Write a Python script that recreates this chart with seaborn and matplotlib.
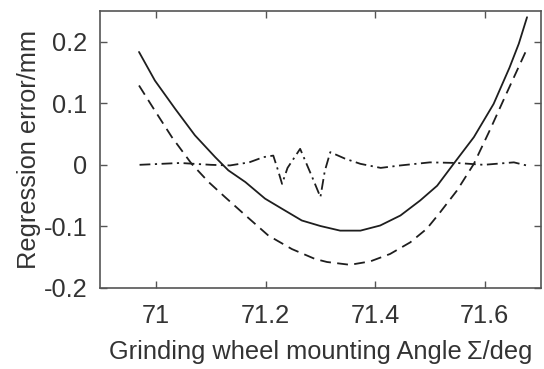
import matplotlib
matplotlib.use("Agg")
import matplotlib.pyplot as plt
import seaborn as sns
import pandas as pd

# Data
solid_x = [70.969, 70.998, 71.035, 71.071, 71.108, 71.132, 71.163, 71.199, 71.230,
           71.266, 71.300, 71.336, 71.373, 71.409, 71.446, 71.482, 71.513, 71.543,
           71.580, 71.616, 71.645, 71.662, 71.677]
solid_y = [0.1835, 0.137, 0.091, 0.048, 0.0125, -0.009, -0.028, -0.055, -0.0715,
           -0.0905, -0.0995, -0.107, -0.107, -0.0987, -0.0824, -0.058, -0.034, 0.0016,
           0.045, 0.099, 0.158, 0.197, 0.240]

dash_x = [70.969, 70.998, 71.029, 71.065, 71.096, 71.126, 71.163, 71.205, 71.248,
          71.290, 71.312, 71.354, 71.391, 71.427, 71.464, 71.494, 71.516, 71.549,
          71.580, 71.610, 71.640, 71.674]
dash_y = [0.129, 0.088, 0.045, 0.0016, -0.028, -0.0525, -0.082, -0.115, -0.137,
          -0.153, -0.158, -0.1626, -0.157, -0.145, -0.126, -0.104, -0.080, -0.042,
          0.0016, 0.058, 0.117, 0.183]

dd_x = [70.970, 71.044, 71.100, 71.135, 71.170, 71.196, 71.214, 71.223, 71.230,
        71.240, 71.263, 71.285, 71.300, 71.308, 71.318, 71.345, 71.373, 71.410,
        71.446, 71.500, 71.549, 71.598, 71.653, 71.676]
dd_y = [0.000, 0.003, 0.000, -0.001, 0.004, 0.0125, 0.015, -0.010, -0.031,
        -0.005, 0.026, -0.020, -0.0525, -0.010, 0.0206, 0.010, 0.0016, -0.005,
        -0.001, 0.004, 0.003, 0.000, 0.004, -0.001]

x_ticks = [71, 71.2, 71.4, 71.6]
x_tick_labels = ["71", "71.2", "71.4", "71.6"]
y_ticks = [-0.2, -0.1, 0, 0.1, 0.2]
y_tick_labels = ["-0.2", "-0.1", "0", "0.1", "0.2"]

sns.set_theme(style="white")
plt.rcParams['font.family'] = ['Liberation Sans', 'DejaVu Sans']

fig = plt.figure(figsize=(5.44, 3.69), dpi=100)
ax = fig.add_axes([0.184, 0.22, 0.81, 0.75])

lc = "#1e1e1e"
lw = 1.3
sns.lineplot(x=solid_x, y=solid_y, ax=ax, color=lc, linewidth=lw, sort=False)
sns.lineplot(x=dash_x, y=dash_y, ax=ax, color=lc, linewidth=lw, sort=False,
             linestyle=(0, (6, 3.5)))
sns.lineplot(x=dd_x, y=dd_y, ax=ax, color=lc, linewidth=lw, sort=False,
             linestyle=(0, (6, 2.5, 1.2, 2.5)))

ax.set_xlim(70.898, 71.702)
ax.set_ylim(-0.2, 0.25)
ax.set_xticks(x_ticks)
ax.set_xticklabels(x_tick_labels)
ax.set_yticks(y_ticks)
ax.set_yticklabels(y_tick_labels)

tc = "#333333"
fs = 18.3
ax.tick_params(direction="in", length=5, width=1, colors="#555555",
               labelcolor=tc, labelsize=fs, top=True, right=True,
               bottom=True, left=True)
ax.tick_params(axis="x", pad=12)
ax.tick_params(axis="y", pad=9)
for s in ax.spines.values():
    s.set_color("#555555")
    s.set_linewidth(1.2)
    s.set_visible(True)

ax.set_xlabel("Grinding wheel mounting Angle\u2009Σ/deg", fontsize=fs, color=tc, labelpad=8)
ax.set_ylabel("Regression error/mm", fontsize=fs, color=tc, labelpad=2)

fig.savefig("out.png", dpi=100)
